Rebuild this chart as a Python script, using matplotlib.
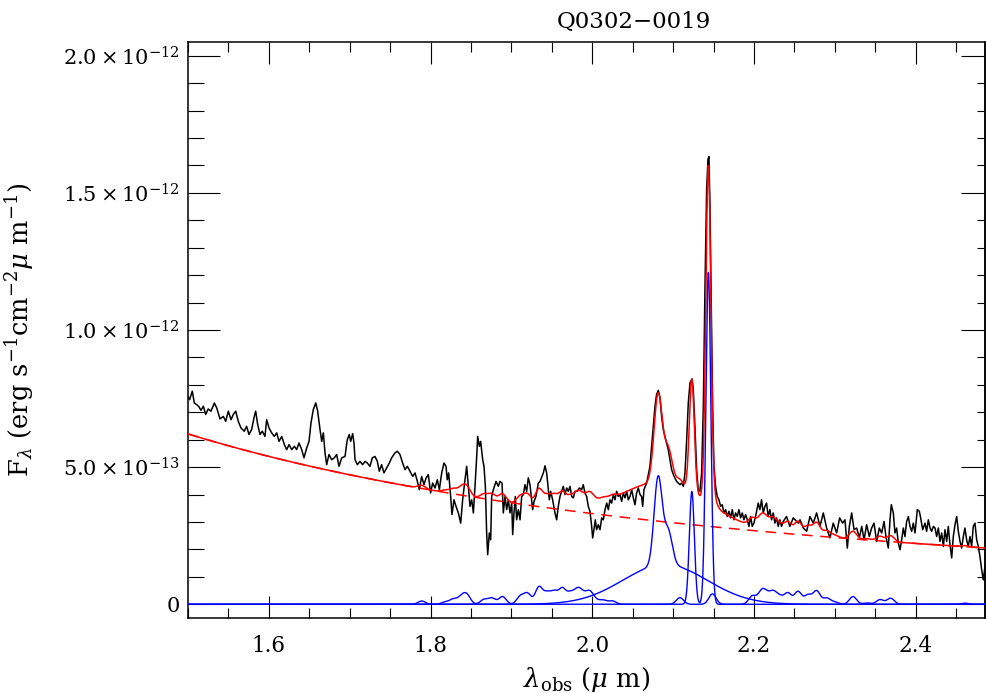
import numpy as np
import matplotlib
matplotlib.use("Agg")
import matplotlib.pyplot as plt
from matplotlib.ticker import MultipleLocator, FuncFormatter, NullFormatter

# ---------------- data (flux in units of 1e-13 erg/s/cm2/um) ----------------
UNIT = 1e-13

obs_wave = [
    1.5000, 1.5020, 1.5053, 1.5078, 1.5107, 1.5136, 1.5160, 1.5190, 1.5219, 1.5250,
    1.5284, 1.5326, 1.5355, 1.5396, 1.5437, 1.5466, 1.5499, 1.5532, 1.5560, 1.5590,
    1.5622, 1.5655, 1.5696, 1.5725, 1.5754, 1.5787, 1.5820, 1.5837, 1.5862, 1.5891,
    1.5919, 1.5952, 1.5973, 1.6002, 1.6035, 1.6068, 1.6097, 1.6126, 1.6159, 1.6192,
    1.6221, 1.6250, 1.6283, 1.6316, 1.6344, 1.6373, 1.6406, 1.6435, 1.6468, 1.6497,
    1.6521, 1.6550, 1.6580, 1.6604, 1.6633, 1.6654, 1.6674, 1.6695, 1.6715, 1.6744,
    1.6777, 1.6810, 1.6839, 1.6868, 1.6901,
    1.6942, 1.6970, 1.6995, 1.7012, 1.7037, 1.7053, 1.7066, 1.7095, 1.7127, 1.7160,
    1.7189, 1.7218, 1.7251, 1.7280, 1.7313, 1.7342, 1.7366, 1.7395, 1.7424, 1.7457,
    1.7490, 1.7519, 1.7560, 1.7589, 1.7622, 1.7655, 1.7684, 1.7713, 1.7746, 1.7779,
    1.7808, 1.7837, 1.7861, 1.7890, 1.7919, 1.7944, 1.7972, 1.8001, 1.8026, 1.8055,
    1.8084, 1.8109, 1.8138, 1.8166, 1.8191, 1.8207, 1.8224, 1.8249, 1.8265, 1.8290,
    1.8315, 1.8344, 1.8373, 1.8397, 1.8426, 1.8447, 1.8467, 1.8488, 1.8509, 1.8530,
    1.8550, 1.8571, 1.8583, 1.8604, 1.8620, 1.8645, 1.8661, 1.8678, 1.8694, 1.8707,
    1.8727, 1.8744,
    1.8756, 1.8777, 1.8810, 1.8838, 1.8859, 1.8884, 1.8900, 1.8921, 1.8942, 1.8962,
    1.8983, 1.9004, 1.9016, 1.9032, 1.9048, 1.9065, 1.9086, 1.9107, 1.9127, 1.9148,
    1.9168, 1.9189, 1.9209, 1.9230, 1.9246, 1.9263, 1.9280, 1.9304, 1.9333, 1.9354,
    1.9378, 1.9395, 1.9416, 1.9436, 1.9449, 1.9469, 1.9486, 1.9510, 1.9539, 1.9560,
    1.9580, 1.9601, 1.9622, 1.9642, 1.9663, 1.9684, 1.9704, 1.9725, 1.9746, 1.9766,
    1.9787, 1.9816, 1.9840, 1.9869, 1.9889, 1.9910, 1.9931, 1.9951, 1.9972, 1.9993,
    2.0005, 2.0021, 2.0038, 2.0054, 2.0075, 2.0096, 2.0117, 2.0137, 2.0158, 2.0179,
    2.0199, 2.0220, 2.0240, 2.0261, 2.0281, 2.0302, 2.0323, 2.0343, 2.0364, 2.0385,
    2.0405, 2.0426, 2.0446, 2.0467, 2.0488, 2.0508, 2.0529, 2.0549, 2.0570, 2.0591,
    2.0611, 2.0624, 2.0640, 2.0657,
    2.0673, 2.0714, 2.0735, 2.0755, 2.0776, 2.0796, 2.0817, 2.0838, 2.0858, 2.0879,
    2.0899, 2.0920, 2.0940, 2.0961, 2.0982, 2.1003, 2.1023, 2.1044, 2.1064, 2.1085,
    2.1106, 2.1127, 2.1147, 2.1168, 2.1188, 2.1209, 2.1234, 2.1250, 2.1270, 2.1291,
    2.1311, 2.1332, 2.1353, 2.1374, 2.1394, 2.1415, 2.1431, 2.1444, 2.1456, 2.1472,
    2.1489, 2.1505, 2.1526, 2.1546, 2.1567, 2.1588, 2.1608, 2.1629, 2.1650, 2.1670,
    2.1691, 2.1711, 2.1732, 2.1753, 2.1773, 2.1794, 2.1814, 2.1835, 2.1856, 2.1876,
    2.1897, 2.1918, 2.1938, 2.1959, 2.1979, 2.2000, 2.2020, 2.2053, 2.2074, 2.2094,
    2.2115, 2.2136, 2.2156, 2.2177, 2.2197, 2.2218, 2.2238, 2.2259, 2.2280, 2.2300,
    2.2321, 2.2341, 2.2362, 2.2403, 2.2445, 2.2486, 2.2548, 2.2570, 2.2611, 2.2652,
    2.2693, 2.2734, 2.2775, 2.2817, 2.2858, 2.2899, 2.2940, 2.2981,
    2.3023, 2.3060, 2.3097, 2.3126, 2.3155, 2.3180, 2.3209, 2.3238, 2.3271, 2.3304,
    2.3333, 2.3362, 2.3394, 2.3427, 2.3456, 2.3485, 2.3518, 2.3551, 2.3580, 2.3609,
    2.3633, 2.3662, 2.3683, 2.3699, 2.3724, 2.3744, 2.3765, 2.3786, 2.3807, 2.3827,
    2.3848, 2.3868, 2.3889, 2.3910, 2.3930, 2.3951, 2.3971, 2.3992, 2.4021, 2.4046,
    2.4062, 2.4087, 2.4116, 2.4136, 2.4157, 2.4178, 2.4198, 2.4219, 2.4240, 2.4260,
    2.4281, 2.4301, 2.4322, 2.4343, 2.4363, 2.4384, 2.4404, 2.4425, 2.4446, 2.4466,
    2.4487, 2.4508, 2.4528, 2.4549, 2.4569, 2.4590, 2.4610, 2.4631, 2.4651, 2.4672,
    2.4693, 2.4713, 2.4734, 2.4755, 2.4775, 2.4796, 2.4817, 2.4837, 2.4858,
]

obs_flux = [
    7.58, 7.46, 7.77, 7.34, 7.28, 7.20, 7.07, 7.22, 6.92, 7.12,
    7.04, 7.34, 7.16, 6.76, 6.85, 6.67, 7.04, 6.73, 6.92, 7.04,
    6.67, 6.43, 6.31, 6.49, 6.19, 6.37, 6.85, 7.04, 6.55, 6.19,
    6.31, 6.12, 6.73, 6.43, 6.25, 6.12, 6.25, 5.94, 6.12, 5.82,
    5.64, 5.82, 5.64, 5.76, 5.64, 5.88, 5.64, 5.34, 5.70, 5.94,
    6.61, 7.10, 7.34, 7.04, 6.37, 5.94, 6.25, 5.52, 5.09, 5.46,
    5.27, 5.34, 5.46, 5.03, 5.34,
    5.39, 6.00, 6.19, 5.94, 6.22, 5.88, 5.27, 5.09, 5.21, 5.09,
    5.21, 5.15, 5.03, 5.34, 5.39, 5.21, 4.85, 5.09, 4.79, 4.97,
    5.15, 5.34, 5.52, 5.58, 5.46, 5.15, 4.91, 5.03, 4.85, 4.66,
    4.79, 4.48, 4.18, 4.66, 4.36, 4.60, 4.73, 4.06, 4.42, 4.24,
    4.54, 4.18, 4.79, 5.15, 5.03, 4.54, 4.79, 3.93, 3.27, 3.81,
    3.57, 3.33, 2.96, 3.81, 4.54, 5.03, 4.30, 3.57, 3.81, 3.33,
    4.30, 5.39, 6.12, 5.76, 5.94, 5.27, 5.03, 4.30, 2.60, 1.81,
    2.60, 2.35,
    3.93, 4.18, 4.48, 4.30, 4.48, 4.42, 3.33, 3.93, 3.45, 3.81,
    3.33, 3.69, 2.54, 3.33, 3.93, 3.08, 3.45, 3.08, 3.93, 4.00,
    4.36, 4.12, 4.61, 4.36, 3.93, 3.45, 3.75, 3.93, 4.42, 4.48,
    4.66, 4.79, 5.05, 4.79, 4.42, 3.81, 4.12, 3.81, 3.33, 3.08,
    3.57, 3.93, 4.12, 4.30, 4.00, 4.24, 4.12, 4.30, 3.93, 3.88,
    4.12, 4.12, 4.24, 4.18, 4.36, 4.06, 3.93, 3.57, 3.39, 2.84,
    2.42, 2.72, 3.08, 2.72, 2.90, 2.72, 3.15, 3.08, 3.45, 3.69,
    3.45, 3.81, 3.69, 4.00, 3.81, 4.12, 3.93, 4.00, 3.75, 4.06,
    3.88, 4.12, 3.81, 3.93, 4.18, 3.88, 3.63, 4.06, 4.24, 4.00,
    3.93, 3.57, 4.18, 4.30,
    4.42, 5.03, 5.76, 6.49, 7.22, 7.65, 7.80, 7.53, 6.85, 6.37,
    6.12, 5.88, 5.64, 5.27, 4.91, 4.73, 4.60, 4.48, 4.42, 4.36,
    4.42, 4.30, 4.79, 6.00, 7.34, 8.07, 8.22, 7.83, 6.49, 4.91,
    4.18, 4.12, 4.79, 7.22, 11.48, 15.13, 16.22, 16.32, 14.52, 10.87,
    7.22, 5.03, 4.30, 3.93, 3.81, 3.57, 3.63, 3.33, 3.45, 3.20,
    3.39, 3.15, 3.45, 3.08, 3.33, 3.20, 3.45, 3.15, 3.33, 3.08,
    3.27, 3.08, 2.84, 3.20, 2.84, 2.96, 3.20, 3.69, 3.45, 3.81,
    3.33, 3.57, 3.69, 3.20, 3.45, 3.08, 3.33, 2.96, 3.15, 2.84,
    3.08, 2.84, 3.02, 3.20, 2.84, 3.15, 2.96, 3.08, 2.78, 2.66,
    3.20, 2.96, 3.33, 2.84, 3.33, 2.78, 2.42, 2.96,
    2.60, 3.15, 2.96, 3.08, 2.05, 2.84, 3.33, 2.72, 2.78, 2.42,
    2.84, 2.35, 2.90, 2.47, 2.78, 2.96, 2.29, 2.78, 2.60, 3.02,
    2.47, 2.05, 3.08, 3.63, 3.33, 2.60, 2.78, 2.23, 1.99, 2.35,
    2.78, 2.47, 3.02, 3.20, 2.84, 2.66, 2.96, 2.60, 3.45, 3.39,
    3.15, 2.72, 2.96, 2.66, 3.08, 2.78, 2.66, 2.84, 2.78, 2.47,
    2.78, 2.29, 2.60, 2.11, 2.72, 2.29, 2.84, 2.17, 1.69, 2.47,
    2.90, 3.20, 2.66, 2.29, 2.05, 2.47, 2.78, 2.35, 2.11, 2.47,
    2.11, 2.84, 2.96, 2.35, 2.11, 1.74, 1.26, 0.89, 1.38,
]

# power-law continuum: F = amp * (lam / lam0) ** index
cont_amp = 6.21
cont_lam0 = 1.5
cont_index = -2.19

# H-beta (narrow core, red shoulder, broad base): centre, amplitude, sigma
hb_centers = [2.0815, 2.0940, 2.0900]
hb_amps = [3.20, 1.20, 1.45]
hb_sigmas = [0.0050, 0.0050, 0.0520]

# [OIII] 4959, 5007
oiii_centers = [2.1232, 2.1436]
oiii_amps = [4.11, 12.10]
oiii_sigma = 0.0031

# FeII template bumps
fe_centers = [1.789, 1.818, 1.828, 1.838, 1.845, 1.866, 1.876, 1.889, 1.911, 1.920,
              1.934, 1.944, 1.953, 1.963, 1.973, 1.982, 1.989, 1.997, 2.005, 2.014,
              2.025, 2.1085, 2.1487, 2.198, 2.209, 2.215, 2.2236, 2.232, 2.242, 2.2545,
              2.2668, 2.2776, 2.290, 2.300, 2.3225, 2.340, 2.356, 2.369, 2.461]
fe_amps = [0.12, 0.08, 0.18, 0.25, 0.32, 0.17, 0.22, 0.28, 0.28, 0.38,
           0.62, 0.38, 0.42, 0.55, 0.38, 0.48, 0.28, 0.42, 0.12, 0.14,
           0.12, 0.24, 0.38, 0.30, 0.40, 0.30, 0.42, 0.25, 0.40, 0.46,
           0.33, 0.48, 0.22, 0.08, 0.28, 0.05, 0.17, 0.22, 0.04]
fe_sigma = 0.0045

x_ticks = [1.6, 1.8, 2.0, 2.2, 2.4]
y_ticks = [0.0, 5e-13, 1.0e-12, 1.5e-12, 2.0e-12]
title = "Q0302\u22120019"

# ---------------- model evaluation ----------------
lam = np.linspace(1.5, 2.4858, 3000)


def gauss(x, c, a, s):
    return a * np.exp(-0.5 * ((x - c) / s) ** 2)


cont = cont_amp * (lam / cont_lam0) ** cont_index
hb = sum(gauss(lam, c, a, s) for c, a, s in zip(hb_centers, hb_amps, hb_sigmas))
oiii = sum(gauss(lam, c, a, oiii_sigma) for c, a in zip(oiii_centers, oiii_amps))
fe = sum(gauss(lam, c, a, fe_sigma) for c, a in zip(fe_centers, fe_amps))
total = cont + hb + oiii + fe

# ---------------- plotting ----------------
FONT = "DejaVu Serif"
plt.rcParams["font.family"] = [FONT, "DejaVu Sans"]
plt.rcParams["mathtext.fontset"] = "dejavuserif"

fig = plt.figure(figsize=(9.86, 6.93), dpi=100)
ax = fig.add_axes([188 / 986, 1 - 618 / 693, (985 - 188) / 986, (618 - 42) / 693])

ax.plot(obs_wave, np.array(obs_flux) * UNIT, color="black", lw=1.1, zorder=3)
ax.plot(lam, cont * UNIT, color="red", lw=1.1, ls=(0, (7, 5)), zorder=4)
ax.plot(lam, total * UNIT, color="red", lw=1.1, zorder=4)
ax.plot(lam, fe * UNIT, color="blue", lw=1.0, zorder=5)
ax.plot(lam, hb * UNIT, color="blue", lw=1.0, zorder=5)
ax.plot(lam, oiii * UNIT, color="blue", lw=1.0, zorder=5)

ax.set_xlim(1.5, 2.4858)
ax.set_ylim(-0.05e-12, 2.05e-12)

ax.set_xticks(x_ticks)
ax.set_xticklabels(["%.1f" % t for t in x_ticks])
ax.xaxis.set_minor_locator(MultipleLocator(0.05))
ax.set_yticks(y_ticks)
ax.yaxis.set_minor_locator(MultipleLocator(1e-13))


def yfmt(v, pos):
    if abs(v) < 1e-20:
        return "0"
    e = int(np.floor(np.log10(abs(v)) + 1e-9))
    m = v / 10 ** e
    return r"$%.1f\times10^{%d}$" % (m, e)


ax.yaxis.set_major_formatter(FuncFormatter(yfmt))

ax.tick_params(axis="x", which="major", direction="in", length=15.5, width=0.8,
               top=True, bottom=True, pad=12, labelsize=15.5)
ax.tick_params(axis="x", which="minor", direction="in", length=7.5, width=0.8,
               top=True, bottom=True)
ax.tick_params(axis="y", which="major", direction="in", length=23, width=0.8,
               left=True, right=False, pad=6, labelsize=15)
ax.tick_params(axis="y", which="minor", direction="in", length=11.5, width=0.8,
               left=True, right=False)

sec = ax.secondary_yaxis("right")
sec.set_yticks(y_ticks)
sec.yaxis.set_minor_locator(MultipleLocator(1e-13))
sec.yaxis.set_major_formatter(NullFormatter())
sec.tick_params(which="major", direction="in", length=17, width=0.8, labelright=False)
sec.tick_params(which="minor", direction="in", length=5.8, width=0.8)
sec.spines["right"].set_linewidth(1.1)

for s in ax.spines.values():
    s.set_linewidth(1.1)

ax.set_title(title, fontsize=16.5, pad=10, x=0.56)
ax.set_xlabel(r"$\lambda_{\rm obs}$ ($\mu$ m)", fontsize=18.5)
ax.set_ylabel(r"F$_\lambda$ (erg s$^{-1}$cm$^{-2}$$\mu$ m$^{-1}$)", fontsize=18.5)
ax.xaxis.set_label_coords(0.5, -0.082)
ax.yaxis.set_label_coords(-0.191, 0.5)

fig.savefig("out.png", dpi=100)
